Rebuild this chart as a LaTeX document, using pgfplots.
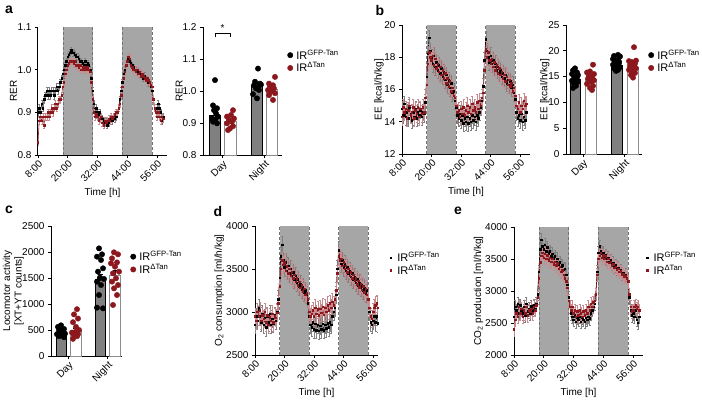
\documentclass[border=0pt]{standalone}
\usepackage{pgfplots}
\pgfplotsset{compat=1.18}
\usepackage{pgfplotstable}
\usepackage{fontspec}
\setmainfont{Liberation Sans}
\definecolor{dred}{RGB}{140,24,30}
\definecolor{shade}{RGB}{166,166,166}
\definecolor{bargray}{RGB}{128,128,128}

\pgfplotstableread{
t k r
8.0 0.90 0.83
8.5 0.91 0.88
9.0 0.90 0.89
9.5 0.92 0.88
10.0 0.91 0.89
10.5 0.93 0.87
11.0 0.94 0.89
11.5 0.95 0.89
12.0 0.94 0.90
12.5 0.95 0.89
13.0 0.94 0.90
13.5 0.95 0.91
14.0 0.95 0.90
14.5 0.94 0.91
15.0 0.95 0.92
15.5 0.96 0.91
16.0 0.95 0.92
16.5 0.96 0.93
17.0 0.97 0.93
17.5 0.98 0.94
18.0 0.99 0.96
18.5 1.00 0.97
19.0 1.01 0.99
19.5 1.02 1.00
20.0 1.03 1.01
20.5 1.035 1.015
21.0 1.04 1.02
21.5 1.045 1.02
22.0 1.04 1.02
22.5 1.04 1.015
23.0 1.035 1.02
23.5 1.03 1.01
24.0 1.03 1.01
24.5 1.025 1.005
25.0 1.02 1.01
25.5 1.02 1.00
26.0 1.015 1.005
26.5 1.01 1.0
27.0 1.02 1.005
27.5 1.01 1.0
28.0 1.015 1.005
28.5 1.01 1.0
29.0 1.0 0.995
29.5 0.98 0.97
30.0 0.95 0.93
30.5 0.92 0.90
31.0 0.90 0.89
31.5 0.91 0.895
32.0 0.90 0.89
32.5 0.895 0.88
33.0 0.90 0.885
33.5 0.89 0.89
34.0 0.885 0.875
34.5 0.88 0.87
35.0 0.875 0.88
35.5 0.88 0.875
36.0 0.87 0.88
36.5 0.875 0.885
37.0 0.88 0.88
37.5 0.885 0.89
38.0 0.88 0.885
38.5 0.89 0.89
39.0 0.885 0.895
39.5 0.89 0.90
40.0 0.90 0.90
40.5 0.91 0.91
41.0 0.93 0.92
41.5 0.95 0.94
42.0 0.97 0.96
42.5 0.99 0.98
43.0 1.00 0.995
43.5 1.01 1.01
44.0 1.02 1.02
44.5 1.025 1.03
45.0 1.02 1.025
45.5 1.015 1.01
46.0 1.01 1.005
46.5 1.005 1.0
47.0 1.0 1.0
47.5 1.0 0.995
48.0 1.0 1.0
48.5 0.995 0.99
49.0 0.99 0.995
49.5 0.99 0.985
50.0 0.985 0.99
50.5 0.98 0.985
51.0 0.985 0.98
51.5 0.98 0.975
52.0 0.975 0.98
52.5 0.97 0.975
53.0 0.97 0.97
53.5 0.96 0.965
54.0 0.95 0.96
54.5 0.93 0.93
55.0 0.91 0.91
55.5 0.90 0.90
56.0 0.91 0.89
56.5 0.92 0.90
57.0 0.91 0.89
57.5 0.90 0.88
58.0 0.88 0.89
58.5 0.89 0.885
}\rertable

\pgfplotstableread{
t k r
8.0 14.8 14.3
8.5 14.4 14.9
9.0 15.1 14.6
9.5 14.3 14.8
10.0 14.6 14.2
10.5 14.2 14.7
11.0 14.9 15.0
11.5 14.5 14.4
12.0 14.1 14.6
12.5 14.6 14.9
13.0 14.3 14.2
13.5 14.8 14.7
14.0 14.2 14.5
14.5 14.6 14.9
15.0 14.4 14.3
15.5 14.7 14.8
16.0 14.3 14.5
16.5 14.6 14.9
17.0 14.5 14.6
17.5 15.2 15.5
18.0 16.8 16.3
18.5 18.2 17.6
19.0 19.2 18.3
19.5 18.4 18.0
20.0 18.0 17.8
20.5 17.6 18.1
21.0 18.1 17.5
21.5 17.4 17.9
22.0 17.7 17.3
22.5 17.2 17.6
23.0 17.5 17.1
23.5 17.0 17.4
24.0 17.3 16.9
24.5 16.8 17.2
25.0 17.1 16.7
25.5 16.6 17.0
26.0 16.9 16.4
26.5 16.3 16.7
27.0 16.6 16.2
27.5 16.1 16.5
28.0 16.4 15.9
28.5 15.8 16.1
29.0 15.9 15.6
29.5 15.3 15.5
30.0 14.9 15.0
30.5 14.4 14.6
31.0 14.2 14.7
31.5 14.5 14.3
32.0 14.1 14.8
32.5 14.4 14.5
33.0 13.9 14.9
33.5 14.2 14.4
34.0 14.0 14.7
34.5 14.3 15.0
35.0 13.9 14.6
35.5 14.2 14.9
36.0 14.0 14.5
36.5 14.4 15.1
37.0 14.1 14.7
37.5 14.3 14.9
38.0 14.0 14.6
38.5 14.4 15.2
39.0 14.2 14.8
39.5 14.6 15.3
40.0 14.9 15.0
40.5 15.3 15.5
41.0 16.2 15.8
41.5 17.8 17.2
42.0 19.1 18.5
42.5 18.4 18.0
43.0 18.0 18.3
43.5 17.7 17.8
44.0 18.1 17.6
44.5 17.6 17.9
45.0 17.8 17.4
45.5 17.4 17.7
46.0 17.6 17.2
46.5 17.2 17.5
47.0 17.4 17.0
47.5 17.0 17.3
48.0 17.2 16.9
48.5 16.8 17.1
49.0 17.0 16.7
49.5 16.7 16.9
50.0 16.9 16.5
50.5 16.4 16.8
51.0 16.6 16.3
51.5 16.3 16.6
52.0 16.5 16.2
52.5 16.1 16.4
53.0 16.3 15.9
53.5 15.8 16.1
54.0 15.4 15.6
54.5 14.6 15.0
55.0 14.2 14.8
55.5 14.4 15.2
56.0 14.1 14.6
56.5 14.5 15.0
57.0 14.0 14.8
57.5 14.3 15.3
58.0 14.1 15.0
58.5 14.6 15.1
}\eetable

\pgfplotstableread{
t k r
8.0 2850 2950
8.5 2950 2900
9.0 2900 3000
9.5 3050 2950
10.0 2950 3020
10.5 2880 2900
11.0 2980 2960
11.5 2850 2920
12.0 2930 3000
12.5 2820 2880
13.0 2950 2960
13.5 2880 2850
14.0 2980 2940
14.5 2850 2900
15.0 2920 2980
15.5 2870 2880
16.0 2960 2950
16.5 2900 2930
17.0 3000 2990
17.5 3150 3100
18.0 3400 3300
18.5 3650 3500
19.0 3780 3600
19.5 3600 3550
20.0 3520 3580
20.5 3580 3480
21.0 3480 3530
21.5 3540 3450
22.0 3450 3500
22.5 3500 3420
23.0 3420 3470
23.5 3460 3390
24.0 3380 3430
24.5 3420 3350
25.0 3340 3390
25.5 3380 3310
26.0 3300 3350
26.5 3330 3280
27.0 3260 3310
27.5 3290 3240
28.0 3230 3270
28.5 3250 3200
29.0 3200 3220
29.5 3100 3150
30.0 2950 3000
30.5 2850 2950
31.0 2820 2980
31.5 2880 3020
32.0 2800 2950
32.5 2860 3050
33.0 2790 2980
33.5 2850 3030
34.0 2780 2960
34.5 2840 3040
35.0 2800 2990
35.5 2860 3060
36.0 2790 2970
36.5 2850 3050
37.0 2810 3000
37.5 2870 3080
38.0 2820 3020
38.5 2880 3100
39.0 2850 3050
39.5 2950 3120
40.0 3000 3080
40.5 3050 3150
41.0 3200 3250
41.5 3500 3450
42.0 3720 3650
42.5 3620 3600
43.0 3560 3620
43.5 3600 3540
44.0 3520 3580
44.5 3560 3500
45.0 3480 3540
45.5 3520 3460
46.0 3450 3500
46.5 3480 3420
47.0 3410 3460
47.5 3450 3390
48.0 3380 3430
48.5 3410 3360
49.0 3340 3390
49.5 3380 3320
50.0 3310 3360
50.5 3340 3290
51.0 3280 3330
51.5 3310 3260
52.0 3250 3300
52.5 3280 3230
53.0 3220 3270
53.5 3250 3200
54.0 3150 3150
54.5 3000 3050
55.0 2880 2950
55.5 2850 2920
56.0 2900 3000
56.5 2950 3050
57.0 2880 3080
57.5 2950 3100
58.0 2870 3050
58.5 2900 3080
}\ootable

\pgfplotstableread{
t k r
8.0 2600 2400
8.5 2750 2550
9.0 2700 2650
9.5 2800 2600
10.0 2650 2750
10.5 2780 2650
11.0 2700 2720
11.5 2650 2600
12.0 2750 2700
12.5 2620 2650
13.0 2800 2750
13.5 2680 2620
14.0 2720 2700
14.5 2650 2680
15.0 2760 2720
15.5 2700 2650
16.0 2780 2750
16.5 2720 2700
17.0 2800 2780
17.5 2950 2900
18.0 3300 3200
18.5 3650 3450
19.0 3800 3550
19.5 3700 3600
20.0 3650 3520
20.5 3720 3580
21.0 3620 3500
21.5 3680 3560
22.0 3580 3480
22.5 3620 3520
23.0 3540 3460
23.5 3580 3500
24.0 3500 3420
24.5 3540 3460
25.0 3460 3400
25.5 3500 3430
26.0 3420 3350
26.5 3450 3380
27.0 3380 3300
27.5 3400 3320
28.0 3330 3250
28.5 3350 3200
29.0 3250 3150
29.5 3100 3050
30.0 2900 2850
30.5 2750 2750
31.0 2650 2700
31.5 2600 2750
32.0 2550 2650
32.5 2620 2700
33.0 2520 2600
33.5 2580 2680
34.0 2550 2620
34.5 2600 2700
35.0 2520 2650
35.5 2580 2600
36.0 2550 2680
36.5 2520 2620
37.0 2580 2700
37.5 2550 2650
38.0 2600 2750
38.5 2570 2700
39.0 2650 2800
39.5 2700 2750
40.0 2750 2820
40.5 2800 2850
41.0 2950 2950
41.5 3300 3250
42.0 3600 3500
42.5 3700 3550
43.0 3620 3600
43.5 3580 3520
44.0 3600 3560
44.5 3520 3500
45.0 3560 3540
45.5 3500 3460
46.0 3520 3500
46.5 3460 3440
47.0 3480 3460
47.5 3420 3400
48.0 3440 3420
48.5 3380 3360
49.0 3400 3380
49.5 3340 3330
50.0 3360 3350
50.5 3300 3300
51.0 3320 3310
51.5 3270 3260
52.0 3280 3270
52.5 3230 3230
53.0 3250 3240
53.5 3200 3200
54.0 3150 3150
54.5 2900 2950
55.0 2700 2750
55.5 2620 2680
56.0 2650 2700
56.5 2600 2750
57.0 2700 2780
57.5 2550 2720
58.0 2500 2750
58.5 2600 2700
}\cotable

\pgfplotsset{
  gp/.style={scale only axis, axis lines=left,
    axis line style={-, line width=1pt},
    tick align=outside, major tick length=3pt,
    tick style={line width=0.9pt, black},
    tick label style={font=\fontsize{10}{11}\selectfont},
    label style={font=\fontsize{10}{11}\selectfont},
    /pgf/number format/assume math mode=true,
    /pgf/number format/1000 sep={},
    legend style={draw=none, fill=none, inner sep=0pt, outer sep=0pt,
      font=\fontsize{11}{13}\selectfont, row sep=-1pt,
      nodes={inner sep=1.5pt}},
    legend cell align=left,
    legend image code/.code={\draw[##1] plot coordinates {(0pt,0pt)}; \path (4.5pt,0pt);},
  },
  ylpos/.style={ylabel style={at={(axis description cs:#1,0.5)}, anchor=center}},
  ts/.style={gp, xmin=8, xmax=60, xtick={8,20,32,44,56},
    xticklabels={8:00,20:00,32:00,44:00,56:00},
    xticklabel style={rotate=45, anchor=north east, inner sep=1pt},
    xlabel={Time [h]},
    xlabel style={at={(axis description cs:0.5,-0.297)}, anchor=center}},
  bars/.style={gp, clip mode=individual,
    xticklabel style={rotate=45, anchor=north east, inner sep=1pt}},
  kline/.style={black, line width=0.6pt, mark=square*, mark size=0.75pt,
    error bars/.cd, y dir=both, y fixed=#1,
    error bar style={line width=0.35pt, black!50},
    error mark options={rotate=90, mark size=1pt, line width=0.35pt, black!50}},
  rline/.style={dred, line width=0.6pt, mark=square*, mark size=0.75pt,
    error bars/.cd, y dir=both, y fixed=#1,
    error bar style={line width=0.35pt, dred!50},
    error mark options={rotate=90, mark size=1pt, line width=0.35pt, dred!50}},
  gbar/.style={ybar, bar width=#1, bar shift=0pt, fill=bargray, draw=black,
    line width=0.6pt, forget plot,
    error bars/.cd, y dir=plus, y explicit,
    error bar style={line width=0.6pt, black},
    error mark options={rotate=90, mark size=2.5pt, line width=0.6pt, black}},
  wbar/.style={ybar, bar width=#1, bar shift=0pt, fill=white, draw=black!45,
    line width=0.6pt, forget plot,
    error bars/.cd, y dir=plus, y explicit,
    error bar style={line width=0.6pt, black},
    error mark options={rotate=90, mark size=2.5pt, line width=0.6pt, black}},
  kdot/.style={only marks, mark=*, mark size=2.7pt, black},
  rdot/.style={only marks, mark=*, mark size=2.7pt, dred, mark options={fill=dred, draw=dred}},
  shadeedge/.style={densely dashed, black!55, line width=0.4pt, forget plot},
}

\begin{document}
\begin{tikzpicture}
\path[use as bounding box] (0pt,0pt) rectangle (702pt,400pt);

% panel labels
\node[font=\fontsize{14}{14}\bfseries\selectfont] at (9pt,390pt) {a};
\node[font=\fontsize{14}{14}\bfseries\selectfont] at (380pt,390pt) {b};
\node[font=\fontsize{14}{14}\bfseries\selectfont] at (9pt,190pt) {c};
\node[font=\fontsize{14}{14}\bfseries\selectfont] at (218pt,189pt) {d};
\node[font=\fontsize{14}{14}\bfseries\selectfont] at (458pt,189pt) {e};

% ---------- a: RER time course
\begin{axis}[ts, at={(38pt,245pt)}, anchor=south west, width=129pt, height=128pt,
  ymin=0.8, ymax=1.1, ytick={0.8,0.9,1.0,1.1}, yticklabels={0.8,0.9,1.0,1.1},
  ylabel={RER}, ylpos=-0.19]
\addplot[fill=shade, draw=none, forget plot] coordinates {(18,1.1) (30,1.1)} \closedcycle;
\addplot[fill=shade, draw=none, forget plot] coordinates {(42,1.1) (54,1.1)} \closedcycle;
\addplot[shadeedge] coordinates {(18,0.8) (18,1.1)};
\addplot[shadeedge] coordinates {(30,0.8) (30,1.1)};
\addplot[shadeedge] coordinates {(42,0.8) (42,1.1)};
\addplot[shadeedge] coordinates {(54,0.8) (54,1.1)};
\addplot[kline=0.008] table[x=t, y=k] {\rertable};
\addplot[rline=0.008] table[x=t, y=r] {\rertable};
\end{axis}

% ---------- a: RER bars
\begin{axis}[bars, at={(203pt,245pt)}, anchor=south west, width=79pt, height=128pt,
  xmin=0, xmax=79, ymin=0.8, ymax=1.2,
  ytick={0.8,0.9,1.0,1.1,1.2}, yticklabels={0.8,0.9,1.0,1.1,1.2},
  xtick={19.65,61.4}, xticklabels={Day,Night}, ylabel={RER}, ylpos=-0.30,
  legend style={at={(1.07,0.73)}, anchor=west}]
\addplot[gbar=11.3] coordinates {(12,0.925) +- (0,0.012) (53.8,1.018) +- (0,0.01)};
\addplot[wbar=11.3] coordinates {(27.3,0.904) +- (0,0.006) (69,1.005) +- (0,0.006)};
\addplot[kdot] coordinates {(12,1.034) (10,0.955) (14,0.946) (11,0.94) (13,0.93) (9,0.914) (15,0.92) (12,0.91) (10,0.904) (14,0.899)
 (55,1.07) (52,1.029) (57,1.023) (51,1.018) (55,1.013) (53,1.008) (56,1.003) (50,0.99) (54,0.977) (58,1.02)};
\addplot[rdot] coordinates {(30,0.94) (28,0.925) (24,0.92) (31,0.914) (26,0.909) (29,0.904) (24,0.899) (30,0.89) (27,0.883) (25,0.878)
 (72,1.044) (66,1.023) (70,1.018) (67,1.013) (71,1.008) (65,1.003) (68,0.998) (72,0.993) (66,0.987) (70,0.972)};
\addlegendentry{IR\textsuperscript{GFP-Tan}}
\addlegendentry{IR\textsuperscript{ΔTan}}
\draw[line width=0.6pt] (axis cs:12,1.168) -- (axis cs:12,1.181) -- (axis cs:27.3,1.181) -- (axis cs:27.3,1.168);
\node[font=\fontsize{10}{10}\selectfont] at (axis cs:19.65,1.197) {*};
\end{axis}

% ---------- b: EE time course
\begin{axis}[ts, at={(402pt,246pt)}, anchor=south west, width=128pt, height=129pt,
  ymin=12, ymax=20, ytick={12,14,16,18,20}, ylabel={EE [kcal/h/kg]}, ylpos=-0.18]
\addplot[fill=shade, draw=none, forget plot] coordinates {(18,20) (30,20)} \closedcycle;
\addplot[fill=shade, draw=none, forget plot] coordinates {(42,20) (54,20)} \closedcycle;
\addplot[shadeedge] coordinates {(18,12) (18,20)};
\addplot[shadeedge] coordinates {(30,12) (30,20)};
\addplot[shadeedge] coordinates {(42,12) (42,20)};
\addplot[shadeedge] coordinates {(54,12) (54,20)};
\addplot[kline=0.5] table[x=t, y=k] {\eetable};
\addplot[rline=0.5] table[x=t, y=r] {\eetable};
\end{axis}

% ---------- b: EE bars
\begin{axis}[bars, at={(566pt,246pt)}, anchor=south west, width=76pt, height=129pt,
  xmin=0, xmax=76, ymin=0, ymax=25, ytick={0,5,10,15,20,25},
  xtick={17.1,58.6}, xticklabels={Day,Night}, ylabel={EE [kcal/h/kg]}, ylpos=-0.28,
  legend style={at={(1.085,0.717)}, anchor=west}]
\addplot[gbar=10.7] coordinates {(9.3,14.5) +- (0,0.35) (50.7,17.2) +- (0,0.3)};
\addplot[wbar=10.7] coordinates {(24.9,14.5) +- (0,0.4) (66.5,16.8) +- (0,0.45)};
\addplot[kdot] coordinates {(9,16.6) (7,16.2) (11,15.8) (6,15.5) (12,15.3) (8,15.0) (10,14.6) (6,14.2) (12,14.0) (8,13.6) (10,13.2) (7,12.8) (11,14.8) (9,13.9)
 (48,19.0) (52,19.2) (54,18.9) (47,18.4) (51,18.2) (49,17.8) (53,17.6) (47,17.3) (50,17.0) (54,16.8) (48,16.6) (52,16.3) (50,16.1) (53,17.9)};
\addplot[rdot] coordinates {(27,17.3) (24,16.0) (21,15.8) (28,15.5) (23,15.2) (26,14.9) (22,14.6) (28,14.3) (25,14.0) (21,13.6) (27,13.2) (24,12.8) (26,12.4) (23,15.0)
 (68,20.7) (70,18.1) (63,18.0) (66,17.8) (69,17.5) (64,17.2) (67,16.9) (70,16.6) (63,16.3) (66,16.0) (69,15.7) (65,15.3) (67,14.8) (64,16.7)};
\addlegendentry{IR\textsuperscript{GFP-Tan}}
\addlegendentry{IR\textsuperscript{ΔTan}}
\end{axis}

% ---------- c: locomotor activity
\begin{axis}[bars, at={(51pt,44pt)}, anchor=south west, width=71pt, height=130pt,
  xmin=0, xmax=71, ymin=0, ymax=2500, ytick={0,500,1000,1500,2000,2500},
  xtick={17.5,56.65}, xticklabels={Day,Night},
  ylabel={Locomotor activity\\{}[XT+YT counts]}, ylpos=-0.53,
  ylabel style={align=center, font=\fontsize{10}{11.5}\selectfont},
  legend style={at={(1.12,0.715)}, anchor=west}]
\addplot[gbar=10.5] coordinates {(10.3,460) +- (0,30) (49.3,1480) +- (0,90)};
\addplot[wbar=10.5] coordinates {(24.7,500) +- (0,40) (64,1560) +- (0,80)};
\addplot[kdot] coordinates {(10,590) (7,560) (13,520) (8,500) (12,470) (9,450) (14,430) (6,420) (11,400) (8,380) (13,360) (10,480)
 (48,2070) (51,1955) (46,1910) (50,1846) (52,1686) (47,1622) (49,1506) (53,1481) (46,1430) (50,1365) (48,1173) (46,929) (52,917) (49,1500)};
\addplot[rdot] coordinates {(26,900) (23,800) (27,720) (22,650) (25,560) (28,500) (24,460) (21,450) (27,420) (23,400) (26,380) (22,330)
 (63,1994) (67,1955) (61,1878) (66,1800) (60,1782) (64,1718) (68,1622) (62,1590) (65,1494) (61,1430) (67,1365) (63,1301) (66,1173) (62,981)};
\addlegendentry{IR\textsuperscript{GFP-Tan}}
\addlegendentry{IR\textsuperscript{ΔTan}}
\end{axis}

% ---------- d: O2 consumption
\begin{axis}[ts, at={(255pt,45pt)}, anchor=south west, width=123pt, height=129pt,
  xmax=58, ymin=2500, ymax=4000, ytick={2500,3000,3500,4000},
  ylabel={O\textsubscript{2} consumption [ml/h/kg]}, ylpos=-0.29,
  legend style={at={(1.10,0.705)}, anchor=west}]
\addplot[fill=shade, draw=none, forget plot] coordinates {(18,4000) (30,4000)} \closedcycle;
\addplot[fill=shade, draw=none, forget plot] coordinates {(42,4000) (54,4000)} \closedcycle;
\addplot[shadeedge] coordinates {(18,2500) (18,4000)};
\addplot[shadeedge] coordinates {(30,2500) (30,4000)};
\addplot[shadeedge] coordinates {(42,2500) (42,4000)};
\addplot[shadeedge] coordinates {(54,2500) (54,4000)};
\addplot[kline=100] table[x=t, y=k] {\ootable};
\addplot[rline=100] table[x=t, y=r] {\ootable};
\addlegendentry{IR\textsuperscript{GFP-Tan}}
\addlegendentry{IR\textsuperscript{ΔTan}}
\end{axis}

% ---------- e: CO2 production
\begin{axis}[ts, at={(514pt,45pt)}, anchor=south west, width=129pt, height=128pt,
  ymin=2000, ymax=4000, ytick={2000,2500,3000,3500,4000},
  ylabel={CO\textsubscript{2} production [ml/h/kg]}, ylpos=-0.275,
  legend style={at={(1.027,0.71)}, anchor=west}]
\addplot[fill=shade, draw=none, forget plot] coordinates {(18,4000) (30,4000)} \closedcycle;
\addplot[fill=shade, draw=none, forget plot] coordinates {(42,4000) (54,4000)} \closedcycle;
\addplot[shadeedge] coordinates {(18,2000) (18,4000)};
\addplot[shadeedge] coordinates {(30,2000) (30,4000)};
\addplot[shadeedge] coordinates {(42,2000) (42,4000)};
\addplot[shadeedge] coordinates {(54,2000) (54,4000)};
\addplot[kline=100] table[x=t, y=k] {\cotable};
\addplot[rline=100] table[x=t, y=r] {\cotable};
\addlegendentry{IR\textsuperscript{GFP-Tan}}
\addlegendentry{IR\textsuperscript{ΔTan}}
\end{axis}
\end{tikzpicture}
\end{document}
